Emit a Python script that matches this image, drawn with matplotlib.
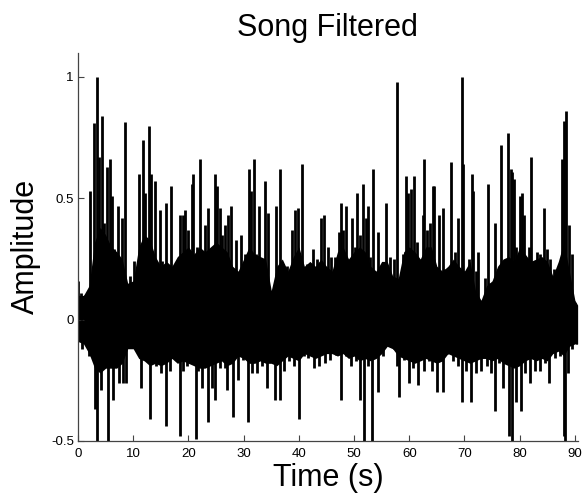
import numpy as np
import matplotlib
matplotlib.use('Agg')
import matplotlib.pyplot as plt

plt.rcParams['font.family'] = ['Liberation Sans', 'DejaVu Sans']

# upward spikes: time (s), amplitude
peak_t = [0.0, 0.5, 1.3, 2.2, 2.96, 3.5, 3.8, 4.35, 4.7, 5.2, 5.8, 6.1, 6.6, 7.3, 7.9,
          8.5, 9.0, 9.5, 10.2, 11.1, 11.7, 12.1, 12.9, 13.3, 14.0, 14.8, 15.3, 15.9,
          16.9, 17.5, 18.4, 19.0, 19.4, 20.0, 20.6, 20.9, 21.5, 22.1, 22.7, 23.0,
          23.5, 24.8, 25.2, 25.7, 26.1, 26.7, 27.2, 27.8, 28.6, 29.5, 30.3, 30.9,
          31.3, 31.8, 32.3, 32.7, 33.9, 34.5, 35.4, 35.9, 36.5, 37.1, 37.9, 38.7,
          39.3, 39.8, 40.6, 41.4, 42.6, 43.2, 44.0, 44.6, 45.2, 45.9, 46.5, 47.3,
          47.6, 48.0, 48.5, 49.0, 49.6, 50.1, 50.6, 51.1, 51.7, 52.1, 52.6, 52.9,
          53.4, 53.8, 54.4, 55.0, 55.8, 56.5, 57.2, 57.7, 58.3, 58.9, 59.4, 59.8,
          60.4, 60.8, 61.4, 62.0, 62.4, 62.7, 63.2, 63.7, 64.3, 64.5, 65.3, 66.1,
          66.5, 67.1, 67.6, 68.3, 68.8, 69.5, 69.7, 70.3, 70.9, 71.3, 71.6, 72.1,
          72.5, 73.2, 73.7, 74.2, 74.6, 75.5, 76.1, 76.6, 77.1, 77.8, 78.1, 78.4,
          78.7, 78.9, 79.3, 80.1, 80.4, 80.8, 81.6, 82.0, 82.5, 83.2, 83.6, 84.4,
          84.9, 85.5, 86.2, 86.9, 87.6, 88.0, 88.4, 88.9, 89.4, 90.0, 90.4]
peak_v = [0.16, 0.11, 0.10, 0.53, 0.81, 1.0, 0.67, 0.84, 0.40, 0.63, 0.66, 0.51, 0.29, 0.47, 0.42,
          0.815, 0.06, 0.18, 0.24, 0.60, 0.74, 0.52, 0.80, 0.60, 0.57, 0.45, 0.24, 0.48,
          0.55, 0.22, 0.43, 0.43, 0.45, 0.37, 0.56, 0.60, 0.30, 0.66, 0.16, 0.39,
          0.46, 0.60, 0.55, 0.46, 0.35, 0.39, 0.43, 0.47, 0.33, 0.35, 0.27, 0.62,
          0.53, 0.66, 0.27, 0.47, 0.57, 0.44, 0.10, 0.47, 0.62, 0.23, 0.22, 0.37,
          0.45, 0.46, 0.64, 0.23, 0.29, 0.25, 0.42, 0.43, 0.30, 0.26, 0.26, 0.36,
          0.48, 0.37, 0.47, 0.19, 0.42, 0.30, 0.52, 0.35, 0.56, 0.42, 0.47, 0.26,
          0.62, 0.12, 0.36, 0.22, 0.48, 0.26, 0.25, 0.98, 0.15, 0.27, 0.59, 0.52,
          0.54, 0.59, 0.32, 0.20, 0.43, 0.66, 0.37, 0.40, 0.55, 0.55, 0.43, 0.46,
          0.21, 0.14, 0.65, 0.28, 0.42, 1.0, 0.64, 0.20, 0.25, 0.60, 0.53, 0.20,
          0.28, 0.03, 0.17, 0.56, 0.15, 0.40, 0.21, 0.72, 0.18, 0.77, 0.16, 0.62,
          0.61, 0.58, 0.30, 0.51, 0.52, 0.43, 0.30, 0.67, 0.21, 0.28, 0.27, 0.46,
          0.29, 0.25, 0.21, 0.18, 0.66, 0.82, 0.86, 0.39, 0.27, 0.07, 0.05]

# downward spikes
dip_t = [0.7, 2.0, 3.0, 3.4, 4.2, 4.7, 5.4, 6.1, 6.4, 7.5, 8.1, 8.7, 9.4, 11.4, 12.4,
         13.1, 14.1, 15.1, 15.9, 16.7, 17.5, 18.4, 19.0, 19.8, 20.4, 21.3, 21.7,
         22.5, 23.5, 24.2, 24.9, 25.7, 26.6, 27.0, 28.1, 28.9, 29.9, 30.8, 31.6,
         32.4, 33.3, 34.3, 35.6, 36.5, 37.3, 38.2, 39.1, 40.0, 40.9, 41.7, 42.7,
         43.6, 44.7, 45.7, 46.7, 47.6, 48.6, 49.4, 50.3, 51.0, 51.8, 52.5, 53.3,
         54.3, 55.2, 57.2, 57.7, 58.2, 59.1, 59.9, 60.7, 61.5, 62.6, 63.6, 64.2,
         65.1, 66.1, 66.9, 67.9, 68.8, 69.6, 70.3, 71.2, 72.1, 73.0, 74.0, 74.8,
         75.5, 76.3, 77.0, 78.0, 78.6, 79.4, 80.2, 81.0, 81.9, 82.7, 83.7, 84.6,
         85.4, 86.4, 87.3, 88.0, 88.3, 88.8, 89.5, 90.3]
dip_v = [-0.12, -0.15, -0.37, -0.55, -0.29, -0.19, -0.55, -0.19, -0.33, -0.26, -0.26, -0.26, -0.11, -0.28, -0.145,
         -0.41, -0.19, -0.22, -0.44, -0.21, -0.145, -0.48, -0.21, -0.19, -0.18, -0.49, -0.21,
         -0.28, -0.42, -0.28, -0.33, -0.20, -0.20, -0.29, -0.40, -0.25, -0.165, -0.42, -0.22,
         -0.22, -0.19, -0.28, -0.33, -0.33, -0.21, -0.17, -0.19, -0.41, -0.15, -0.16, -0.20,
         -0.19, -0.18, -0.165, -0.145, -0.33, -0.15, -0.19, -0.17, -0.33, -0.55, -0.19, -0.55,
         -0.30, -0.15, -0.12, -0.19, -0.32, -0.165, -0.26, -0.20, -0.27, -0.21, -0.17, -0.21,
         -0.30, -0.30, -0.14, -0.17, -0.19, -0.34, -0.21, -0.34, -0.22, -0.21, -0.19, -0.22,
         -0.375, -0.18, -0.28, -0.48, -0.55, -0.34, -0.375, -0.22, -0.26, -0.21, -0.21, -0.18,
         -0.26, -0.16, -0.15, -0.48, -0.55, -0.22, -0.12, -0.10]

# outline of the dense black mass around zero, read every second
mass_t = list(range(0, 91)) + [90.5]
mass_hi = [0.10, 0.10, 0.14, 0.32, 0.38, 0.35, 0.30, 0.28, 0.25, 0.15,
           0.16, 0.30, 0.35, 0.33, 0.26, 0.22, 0.24, 0.22, 0.26, 0.28,
           0.30, 0.27, 0.30, 0.28, 0.30, 0.32, 0.30, 0.28, 0.22, 0.20,
           0.25, 0.30, 0.27, 0.26, 0.25, 0.12, 0.22, 0.25, 0.20, 0.26,
           0.30, 0.22, 0.24, 0.22, 0.25, 0.22, 0.20, 0.28, 0.30, 0.25,
           0.28, 0.30, 0.28, 0.22, 0.20, 0.24, 0.24, 0.18, 0.17, 0.28,
           0.30, 0.28, 0.25, 0.30, 0.30, 0.22, 0.20, 0.22, 0.25, 0.22,
           0.20, 0.24, 0.12, 0.08, 0.14, 0.16, 0.22, 0.25, 0.26, 0.24,
           0.30, 0.27, 0.24, 0.25, 0.26, 0.24, 0.18, 0.24, 0.32, 0.20,
           0.08, 0.06]
mass_lo = [-0.09, -0.10, -0.14, -0.20, -0.22, -0.20, -0.20, -0.20, -0.18, -0.12,
           -0.12, -0.16, -0.17, -0.19, -0.18, -0.19, -0.18, -0.16, -0.18, -0.17,
           -0.18, -0.19, -0.20, -0.20, -0.19, -0.18, -0.17, -0.19, -0.18, -0.15,
           -0.16, -0.18, -0.18, -0.17, -0.18, -0.18, -0.19, -0.17, -0.15, -0.16,
           -0.17, -0.14, -0.15, -0.16, -0.15, -0.14, -0.14, -0.15, -0.14, -0.16,
           -0.15, -0.17, -0.16, -0.17, -0.16, -0.14, -0.11, -0.12, -0.15, -0.16,
           -0.17, -0.18, -0.17, -0.16, -0.17, -0.18, -0.17, -0.14, -0.15, -0.16,
           -0.17, -0.18, -0.17, -0.16, -0.16, -0.17, -0.16, -0.18, -0.19, -0.20,
           -0.19, -0.17, -0.16, -0.17, -0.16, -0.17, -0.14, -0.13, -0.15, -0.11,
           -0.10, -0.10]

fig = plt.figure(figsize=(5.83, 5.01), dpi=100)
ax = fig.add_axes([0.1338, 0.1198, 0.857, 0.775])

ax.fill_between(mass_t, mass_lo, mass_hi, color='black', linewidth=0)
ax.vlines(peak_t, 0, peak_v, color='black', linewidth=2.0)
ax.vlines(dip_t, dip_v, 0, color='black', linewidth=2.0)

ax.set_xlim(0, 90.5)
ax.set_ylim(-0.5, 1.1)
ax.set_xticks(np.arange(0, 91, 10))
ax.set_yticks([-0.5, 0, 0.5, 1])
ax.set_yticklabels(['-0.5', '0', '0.5', '1'])

ax.spines['top'].set_visible(False)
ax.spines['right'].set_visible(False)
for s in ['left', 'bottom']:
    ax.spines[s].set_color('#444444')
    ax.spines[s].set_linewidth(0.9)
ax.tick_params(direction='in', length=4, width=0.8, colors='#444444',
               labelcolor='black', labelsize=9.5)
ax.tick_params(axis='x', pad=5)
ax.tick_params(axis='y', pad=3)

ax.set_title('Song Filtered', fontsize=22, pad=12)
ax.set_xlabel('Time (s)', fontsize=22, labelpad=2)
ax.set_ylabel('Amplitude', fontsize=22, labelpad=7)

fig.savefig('out.png', dpi=100)
